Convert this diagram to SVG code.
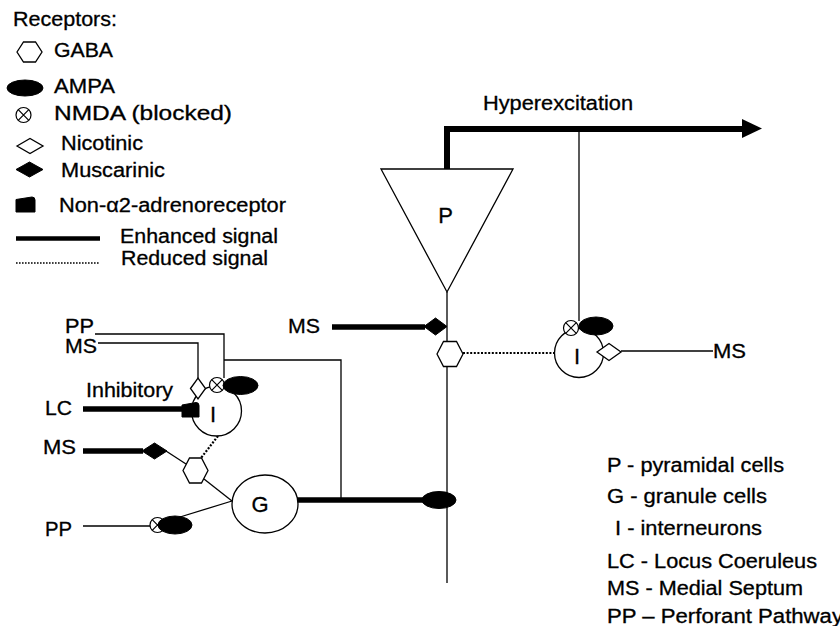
<svg xmlns="http://www.w3.org/2000/svg" xmlns:xlink="http://www.w3.org/1999/xlink" width="840" height="626" viewBox="0 0 840 626">
<style>
.t{font-family:"Liberation Sans",Arial,sans-serif;font-size:19.5px;fill:#000;stroke:#000;stroke-width:0.3}
.c{font-family:"Liberation Sans",Arial,sans-serif;font-size:22px;fill:#000;stroke:#000;stroke-width:0.3;text-anchor:middle}
.thin{stroke:#000;stroke-width:1.3;fill:none}
.thick{stroke:#000;stroke-width:5.5;fill:none}
.dot{stroke:#000;stroke-width:2.2;stroke-dasharray:2 1.6;fill:none}
.open{fill:#fff;stroke:#000;stroke-width:1.3}
.solid{fill:#000;stroke:#000;stroke-width:1}
</style>
<defs>
<g id="nmda"><circle r="7.5" fill="#fff" stroke="#000" stroke-width="1.2"/><path d="M-5.3,-5.3L5.3,5.3M-5.3,5.3L5.3,-5.3" stroke="#000" stroke-width="1.2"/></g>
</defs>
<rect width="840" height="626" fill="#fff"/>

<g id="legend">
<text class="t" x="13" y="26" textLength="104" lengthAdjust="spacingAndGlyphs">Receptors:</text>
<polygon class="open" points="17,52 23.5,42 35.5,42 42,52 35.5,62 23.5,62"/>
<text class="t" x="54" y="57" textLength="59" lengthAdjust="spacingAndGlyphs">GABA</text>
<ellipse class="solid" cx="25" cy="88" rx="18" ry="8"/>
<text class="t" x="54" y="93" textLength="61" lengthAdjust="spacingAndGlyphs">AMPA</text>
<use xlink:href="#nmda" x="23.5" y="115"/>
<text class="t" x="54" y="120" textLength="178" lengthAdjust="spacingAndGlyphs">NMDA (blocked)</text>
<polygon class="open" points="17,146 30,138.5 43,146 30,153.5"/>
<text class="t" x="61" y="150" textLength="82" lengthAdjust="spacingAndGlyphs">Nicotinic</text>
<polygon class="solid" points="16,169.5 29.5,162 43,169.5 29.5,177"/>
<text class="t" x="61" y="177" textLength="104" lengthAdjust="spacingAndGlyphs">Muscarinic</text>
<path class="solid" d="M16,199.5L32,197Q35,197 35,200L35,212L16,212Z"/>
<text class="t" x="59" y="212" textLength="227" lengthAdjust="spacingAndGlyphs">Non-α2-adrenoreceptor</text>
<path d="M16,238.5L100,238.5" stroke="#000" stroke-width="4.5"/>
<text class="t" x="120" y="243" textLength="158" lengthAdjust="spacingAndGlyphs">Enhanced signal</text>
<path d="M16,263L99,263" stroke="#000" stroke-width="1.6" stroke-dasharray="1.6 1.4"/>
<text class="t" x="121" y="265" textLength="147" lengthAdjust="spacingAndGlyphs">Reduced signal</text>
</g>

<g id="key">
<text class="t" x="607" y="472" textLength="177" lengthAdjust="spacingAndGlyphs">P - pyramidal cells</text>
<text class="t" x="607" y="503" textLength="160" lengthAdjust="spacingAndGlyphs">G - granule cells</text>
<text class="t" x="615" y="535" textLength="147" lengthAdjust="spacingAndGlyphs">I - interneurons</text>
<text class="t" x="607" y="568" textLength="210" lengthAdjust="spacingAndGlyphs">LC - Locus Coeruleus</text>
<text class="t" x="607" y="595" textLength="196" lengthAdjust="spacingAndGlyphs">MS - Medial Septum</text>
<text class="t" x="607" y="623" textLength="236" lengthAdjust="spacingAndGlyphs">PP – Perforant Pathway</text>
</g>

<g id="connectors">
<path d="M447,170L447,129L744,129" stroke="#000" stroke-width="6" fill="none"/>
<polygon points="742,119 762,128.5 742,138" fill="#000"/>
<path class="thin" d="M579,129L579,321"/>
<path class="thin" d="M447,292L447,583"/>
<path class="thick" d="M332,327L425,327"/>
<path class="dot" d="M463,353L554,353"/>
<path class="thin" d="M621,351L713,351"/>
<path class="thin" d="M95,334L224,334L224,378"/>
<path class="thin" d="M98,343L198,343L198,378"/>
<path class="thin" d="M224,360L341,360L341,500"/>
<path class="thick" d="M83,409L184,409"/>
<path class="dot" d="M218,436L201,458"/>
<path class="thick" d="M83,451L143,451"/>
<path class="thin" d="M166,451L186,464"/>
<path class="thin" d="M204,479L232,501"/>
<path class="thin" d="M180,517L232,501"/>
<path class="thin" d="M83,526L150,526"/>
<path class="thick" d="M297,500L424,500"/>
</g>

<g id="labels">
<text class="t" x="483" y="110" textLength="150" lengthAdjust="spacingAndGlyphs">Hyperexcitation</text>
<text class="t" x="288" y="333" textLength="32" lengthAdjust="spacingAndGlyphs">MS</text>
<text class="t" x="65" y="333" textLength="29" lengthAdjust="spacingAndGlyphs">PP</text>
<text class="t" x="65" y="353" textLength="32" lengthAdjust="spacingAndGlyphs">MS</text>
<text class="t" x="86" y="397" textLength="87" lengthAdjust="spacingAndGlyphs">Inhibitory</text>
<text class="t" x="45" y="415" textLength="27" lengthAdjust="spacingAndGlyphs">LC</text>
<text class="t" x="43" y="454" textLength="33" lengthAdjust="spacingAndGlyphs">MS</text>
<text class="t" x="45" y="536" textLength="27" lengthAdjust="spacingAndGlyphs">PP</text>
<text class="t" x="713" y="358" textLength="33" lengthAdjust="spacingAndGlyphs">MS</text>
</g>

<g id="node-P">
<polygon class="open" points="381,169 513,169 447,292"/>
<text class="c" x="445.5" y="223">P</text>
<polygon class="solid" points="424,326.5 435.5,318 447,326.5 435.5,335"/>
<polygon class="open" points="437,354 443.5,341.5 456.5,341.5 463,354 456.5,366.5 443.5,366.5"/>
<ellipse class="solid" cx="439" cy="500" rx="17" ry="8.5"/>
</g>

<g id="node-I-right">
<circle class="open" cx="579" cy="353" r="24.5"/>
<text class="c" x="577" y="364">I</text>
<use xlink:href="#nmda" x="571" y="328"/>
<ellipse class="solid" cx="596" cy="326" rx="17" ry="9"/>
<polygon class="open" points="597,352 609,343.5 621,352 609,360.5"/>
</g>

<g id="node-I-left">
<circle class="open" cx="216.5" cy="411" r="25"/>
<text class="c" x="213" y="422">I</text>
<polygon class="open" points="190.5,388.5 198,378 205.5,388.5 198,399"/>
<use xlink:href="#nmda" x="217" y="385"/>
<ellipse class="solid" cx="240.5" cy="385.5" rx="17.5" ry="9"/>
<path class="solid" d="M182,405L196,402.5Q199,402.5 199,405.5L199,417L182,417Z"/>
</g>

<g id="node-G">
<ellipse class="open" cx="265" cy="504" rx="33" ry="29"/>
<text class="c" x="260" y="512">G</text>
<polygon class="solid" points="142,451 154.5,443 167,451 154.5,459"/>
<polygon class="open" points="183,470.5 189.5,458 201.5,458 208,470.5 201.5,483 189.5,483"/>
<use xlink:href="#nmda" x="157.5" y="525"/>
<ellipse class="solid" cx="175" cy="525" rx="17" ry="9"/>
</g>
</svg>
